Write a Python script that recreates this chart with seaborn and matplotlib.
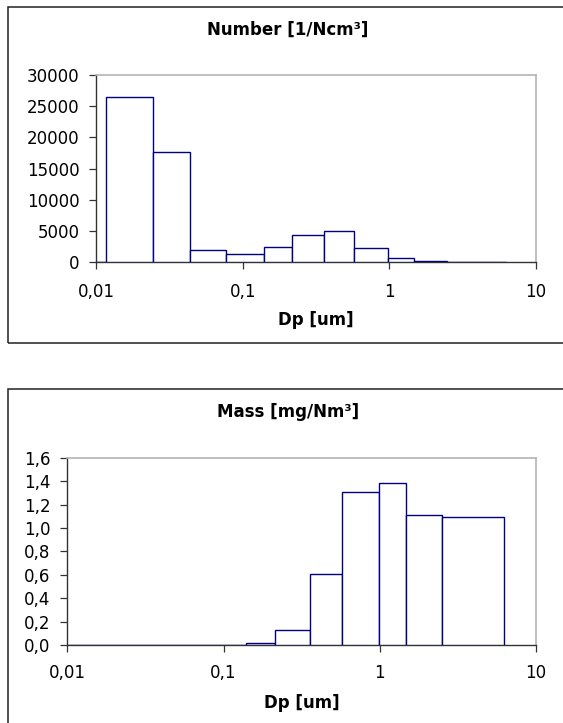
#!/usr/bin/env python3

import numpy as np
import pandas as pd
import matplotlib
matplotlib.use("Agg")
import matplotlib.pyplot as plt
from matplotlib.patches import Rectangle
from matplotlib.ticker import FixedLocator, FuncFormatter, NullLocator
import seaborn as sns

# stage boundaries (um) and concentrations per stage
bin_edges = [0.01, 0.0117, 0.0245, 0.0434, 0.0772, 0.140, 0.215, 0.3585,
             0.573, 0.984, 1.478, 2.486, 6.28]
number_conc = [0, 26400, 17600, 2000, 1300, 2400, 4400, 4950, 2350, 640, 160, 20]
mass_conc = [0, 0, 0, 0, 0, 0.02, 0.126, 0.604, 1.307, 1.387, 1.11, 1.09]

x_ticks = [0.01, 0.1, 1, 10]
x_tick_labels = ["0,01", "0,1", "1", "10"]
number_yticks = [0, 5000, 10000, 15000, 20000, 25000, 30000]
mass_yticks = [0.0, 0.2, 0.4, 0.6, 0.8, 1.0, 1.2, 1.4, 1.6]

sns.set_style("white")
plt.rcParams["font.family"] = ["DejaVu Sans"]
plt.rcParams["text.color"] = "black"
plt.rcParams["axes.labelcolor"] = "black"

W, H = 563, 723
fig = plt.figure(figsize=(W / 100, H / 100), dpi=100)

EDGE = "#000080"
edges = np.array(bin_edges)
df = pd.DataFrame({
    "dp": np.sqrt(edges[:-1] * edges[1:]),
    "number": number_conc,
    "mass": mass_conc,
})
log_bins = [float(v) for v in np.log10(edges)]


def px_axes(left, top, right, bottom):
    return fig.add_axes([left / W, 1 - bottom / H, (right - left) / W, (bottom - top) / H])


def chart_box(top, bottom):
    fig.patches.append(Rectangle((8 / W, 1 - bottom / H), (W + 20) / W, (bottom - top) / H,
                                 transform=fig.transFigure, fill=False,
                                 edgecolor="#222222", linewidth=1.1, zorder=0))


def style_axes(ax, yticks, yfmt, ylim, tickpad):
    ax.set_xlim(0.01, 10)
    ax.set_ylim(*ylim)
    ax.xaxis.set_major_locator(FixedLocator(x_ticks))
    ax.xaxis.set_minor_locator(NullLocator())
    ax.set_xticklabels(x_tick_labels)
    ax.yaxis.set_major_locator(FixedLocator(yticks))
    ax.yaxis.set_major_formatter(FuncFormatter(yfmt))
    ax.tick_params(axis="both", direction="out", length=5, width=0.9,
                   color="#333333", labelsize=12, labelcolor="black")
    ax.tick_params(axis="x", pad=tickpad, bottom=True)
    ax.tick_params(axis="y", pad=7, left=True)
    for side in ["left", "bottom"]:
        ax.spines[side].set_color("#333333")
        ax.spines[side].set_linewidth(1.0)
    for side in ["top", "right"]:
        ax.spines[side].set_color("#b4b4b4")
        ax.spines[side].set_linewidth(1.2)
    ax.set_ylabel("")
    ax.set_xlabel("Dp [um]", fontsize=12, fontweight="bold", color="black")
    ax.xaxis.set_label_coords(0.5, -0.31)
    ax.xaxis.label.set_va("center")


# ---- Number distribution ----
chart_box(7.3, 343.3)
ax1 = px_axes(96.3, 75, 536, 262.3)
sns.histplot(data=df, x="dp", weights="number", bins=log_bins, log_scale=True,
             ax=ax1, facecolor="white", edgecolor=EDGE, linewidth=1.0, alpha=1,
             zorder=3)
style_axes(ax1, number_yticks, lambda v, p: f"{int(v)}", (0, 30000), 10)
fig.text(288 / W, 1 - 30 / H, "Number [1/Ncm³]", ha="center", va="center",
         fontsize=12, fontweight="bold", color="black")

# ---- Mass distribution ----
chart_box(389.3, H + 20)
ax2 = px_axes(67.3, 457.7, 536, 645)
sns.histplot(data=df, x="dp", weights="mass", bins=log_bins, log_scale=True,
             ax=ax2, facecolor="white", edgecolor=EDGE, linewidth=1.0, alpha=1,
             zorder=3)
style_axes(ax2, mass_yticks, lambda v, p: f"{v:.1f}".replace(".", ","), (0, 1.6), 9)
fig.text(288 / W, 1 - 411.7 / H, "Mass [mg/Nm³]", ha="center", va="center",
         fontsize=12, fontweight="bold", color="black")

fig.savefig("out.png", dpi=100)
plt.close(fig)
